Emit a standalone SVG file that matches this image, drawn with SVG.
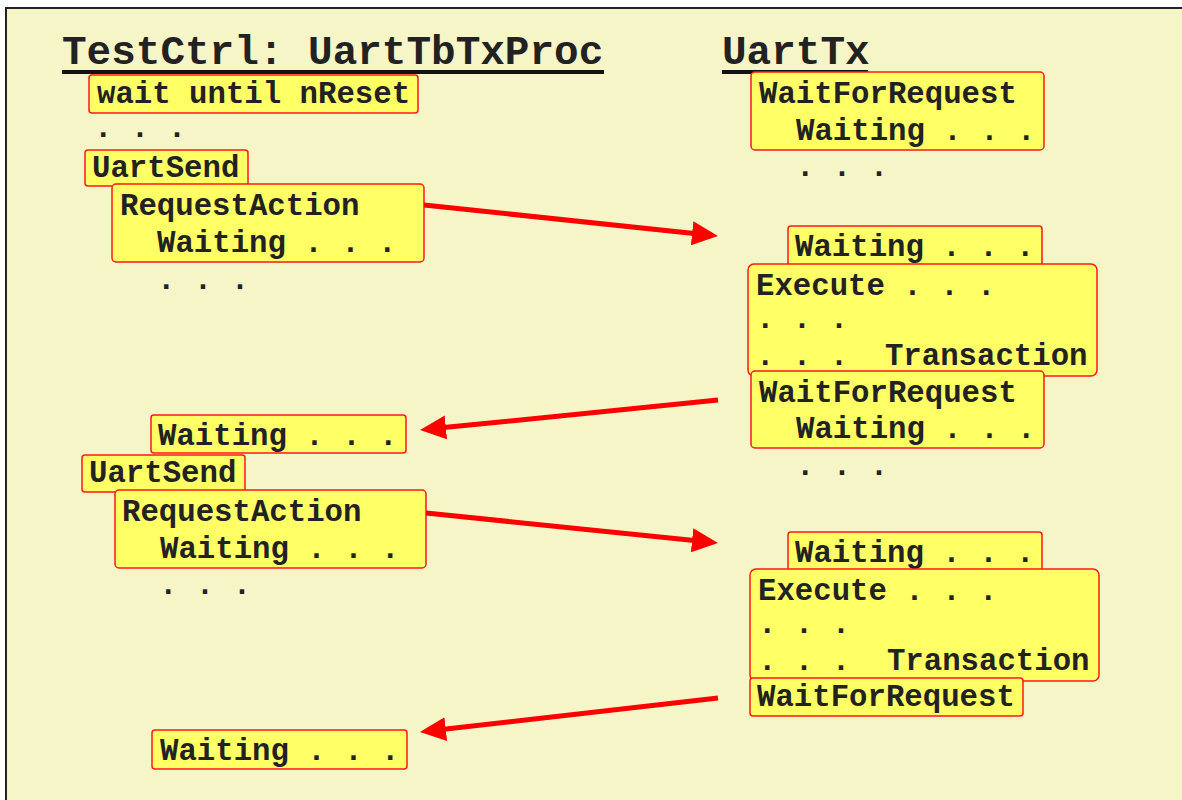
<svg xmlns="http://www.w3.org/2000/svg" width="1182" height="800" viewBox="0 0 1182 800">
  <defs>
    <marker id="head" markerUnits="userSpaceOnUse" markerWidth="26" markerHeight="24" refX="2" refY="12" orient="auto">
      <path d="M0,0 L26,12 L0,24 z" fill="#ff0000"/>
    </marker>
    <style>
      .frame { fill: #f5f5c8; stroke: #222; stroke-width: 2; }
      .box { fill: #ffff66; stroke: #ff1a1a; stroke-width: 1.5; }
      .t { font-family: "Liberation Mono", "Courier New", monospace; font-weight: bold; font-size: 30.7px; fill: #222; white-space: pre; }
      .h { font-family: "Liberation Mono", "Courier New", monospace; font-weight: bold; font-size: 41px; fill: #222; white-space: pre; }
      .rule { stroke: #111; stroke-width: 4; }
      .arrow { stroke: #ff0000; stroke-width: 5; fill: none; marker-end: url(#head); }
    </style>
  </defs>

  <rect x="0" y="0" width="1182" height="800" fill="#ffffff"/>
  <rect class="frame" x="6" y="8" width="1190" height="800"/>

  <!-- column headings -->
  <g id="head-testctrl">
    <text class="h" x="62" y="64">TestCtrl: UartTbTxProc</text>
    <line class="rule" x1="62" y1="72" x2="604" y2="72"/>
  </g>
  <g id="head-uarttx">
    <text class="h" x="722" y="64">UartTx</text>
    <line class="rule" x1="722" y1="72" x2="868" y2="72"/>
  </g>

  <!-- test controller side -->
  <g id="wait-reset">
    <rect class="box" x="89" y="75" width="329" height="38" rx="3"/>
    <text class="t" x="97" y="103">wait until nReset</text>
  </g>
  <g id="dots-l1"><text class="t" x="94" y="137">. . .</text></g>
  <g id="uartsend-1">
    <rect class="box" x="85" y="150" width="163" height="36" rx="3"/>
    <text class="t" x="92" y="177">UartSend</text>
  </g>
  <g id="request-1">
    <rect class="box" x="112" y="184" width="312" height="78" rx="4"/>
    <text class="t" x="120" y="215">RequestAction</text>
    <text class="t" x="157" y="252">Waiting . . .</text>
  </g>
  <g id="dots-l2"><text class="t" x="157" y="289">. . .</text></g>

  <g id="waiting-l1">
    <rect class="box" x="151" y="415" width="255" height="38" rx="3"/>
    <text class="t" x="158" y="445">Waiting . . .</text>
  </g>
  <g id="uartsend-2">
    <rect class="box" x="82" y="455" width="163" height="37" rx="3"/>
    <text class="t" x="89" y="482">UartSend</text>
  </g>
  <g id="request-2">
    <rect class="box" x="115" y="490" width="311" height="78" rx="4"/>
    <text class="t" x="122" y="521">RequestAction</text>
    <text class="t" x="160" y="558">Waiting . . .</text>
  </g>
  <g id="dots-l3"><text class="t" x="159" y="594">. . .</text></g>

  <g id="waiting-l2">
    <rect class="box" x="152" y="730" width="255" height="39" rx="3"/>
    <text class="t" x="160" y="760">Waiting . . .</text>
  </g>

  <!-- transmitter side -->
  <g id="waitforrequest-1">
    <rect class="box" x="751" y="72" width="293" height="78" rx="4"/>
    <text class="t" x="759" y="103">WaitForRequest</text>
    <text class="t" x="796" y="140">Waiting . . .</text>
  </g>
  <g id="dots-r1"><text class="t" x="796" y="176">. . .</text></g>
  <g id="waiting-r1">
    <rect class="box" x="788" y="226" width="254" height="40" rx="3"/>
    <text class="t" x="795" y="256">Waiting . . .</text>
  </g>
  <g id="execute-1">
    <rect class="box" x="748" y="264" width="349" height="112" rx="6"/>
    <text class="t" x="756" y="295">Execute . . .</text>
    <text class="t" x="756" y="328">. . .</text>
    <text class="t" x="756" y="365">. . .  Transaction</text>
  </g>
  <g id="waitforrequest-2">
    <rect class="box" x="751" y="371" width="293" height="77" rx="4"/>
    <text class="t" x="759" y="402">WaitForRequest</text>
    <text class="t" x="796" y="438">Waiting . . .</text>
  </g>
  <g id="dots-r2"><text class="t" x="796" y="475">. . .</text></g>
  <g id="waiting-r2">
    <rect class="box" x="788" y="532" width="254" height="40" rx="3"/>
    <text class="t" x="795" y="562">Waiting . . .</text>
  </g>
  <g id="execute-2">
    <rect class="box" x="750" y="569" width="349" height="112" rx="6"/>
    <text class="t" x="758" y="600">Execute . . .</text>
    <text class="t" x="758" y="633">. . .</text>
    <text class="t" x="758" y="670">. . .  Transaction</text>
  </g>
  <g id="waitforrequest-3">
    <rect class="box" x="750" y="678" width="273" height="38" rx="3"/>
    <text class="t" x="757" y="706">WaitForRequest</text>
  </g>

  <!-- request / acknowledge connectors -->
  <g id="connectors">
    <line class="arrow" x1="424" y1="205" x2="694.1" y2="233.5"/>
    <line class="arrow" x1="718" y1="400" x2="443.9" y2="427.6"/>
    <line class="arrow" x1="426" y1="513" x2="694.1" y2="540.5"/>
    <line class="arrow" x1="718" y1="698" x2="443.8" y2="729.3"/>
  </g>
</svg>
